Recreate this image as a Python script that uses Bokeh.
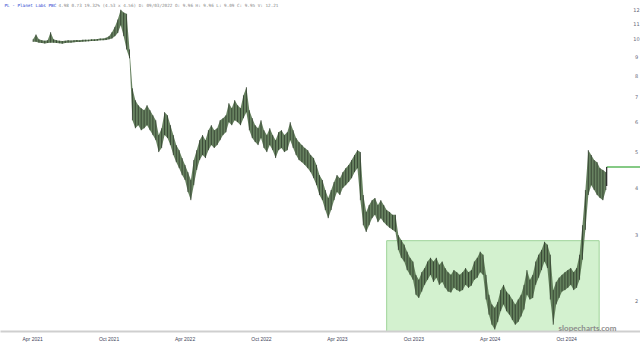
import pandas as pd
from bokeh.plotting import figure
from bokeh.models import Range1d, FixedTicker, DatetimeTickFormatter, Label, ColumnDataSource
from bokeh.embed import file_html
from bokeh.resources import INLINE

# ---- data (weekly high / low) ----
week_start = "2021-04-02"
highs = [
    10.00, 10.30, 10.00, 9.95, 9.92, 9.95, 10.45, 10.00, 9.95, 9.92,
    9.90, 9.92, 9.95, 9.93, 9.95, 9.96, 9.95, 9.97, 9.98, 9.98,
    10.00, 10.00, 10.02, 10.05, 10.05, 10.10, 10.20, 10.45, 10.80, 11.30,
    12.00, 11.80, 11.70, 9.40, 7.40, 6.88, 6.67, 6.55, 6.47, 6.67,
    6.47, 6.27, 6.08, 5.55, 5.79, 6.39, 6.27, 5.90, 5.55, 5.22,
    5.06, 4.82, 4.62, 4.42, 4.21, 4.76, 5.06, 5.38, 5.55, 5.38,
    5.72, 5.90, 5.72, 5.79, 6.08, 6.16, 6.27, 6.75, 6.55, 6.88,
    6.67, 6.55, 7.09, 7.45, 6.47, 6.16, 5.90, 5.79, 6.08, 5.72,
    5.55, 5.79, 5.55, 5.38, 5.65, 5.72, 5.55, 5.65, 6.01, 5.72,
    5.45, 5.32, 5.22, 5.13, 5.06, 4.91, 4.82, 4.62, 4.34, 4.21,
    3.96, 3.77, 3.96, 4.16, 4.34, 4.26, 4.42, 4.53, 4.62, 4.76,
    4.91, 5.06, 5.00, 3.84, 3.46, 3.61, 3.72, 3.77, 3.61, 3.72,
    3.61, 3.50, 3.46, 3.40, 3.40, 3.00, 2.91, 2.83, 2.71, 2.61,
    2.55, 2.35, 2.28, 2.39, 2.45, 2.55, 2.61, 2.55, 2.61, 2.50,
    2.55, 2.45, 2.39, 2.35, 2.42, 2.39, 2.35, 2.39, 2.45, 2.39,
    2.42, 2.55, 2.61, 2.71, 2.66, 2.35, 2.08, 1.96, 1.92, 1.99,
    2.14, 2.21, 2.12, 2.08, 2.02, 1.96, 2.02, 2.08, 2.21, 2.42,
    2.28, 2.35, 2.55, 2.66, 2.74, 2.88, 2.83, 2.66, 2.14, 2.25,
    2.31, 2.35, 2.39, 2.42, 2.45, 2.39, 2.45, 2.66, 3.19, 3.96,
    5.06, 4.91, 4.76, 4.70, 4.53, 4.48, 4.42,
]
lows = [
    9.85, 9.85, 9.80, 9.78, 9.75, 9.78, 9.80, 9.80, 9.78, 9.76,
    9.74, 9.78, 9.80, 9.80, 9.82, 9.84, 9.84, 9.86, 9.87, 9.88,
    9.90, 9.90, 9.92, 9.94, 9.95, 9.96, 10.00, 10.05, 10.20, 10.40,
    10.90, 10.20, 9.40, 8.90, 6.08, 5.79, 5.90, 5.72, 5.79, 5.90,
    5.72, 5.55, 5.38, 5.00, 5.13, 5.55, 5.45, 5.22, 4.91, 4.70,
    4.53, 4.34, 4.21, 3.91, 3.72, 4.08, 4.48, 4.76, 4.91, 4.82,
    5.06, 5.22, 5.13, 5.22, 5.38, 5.55, 5.65, 6.01, 5.90, 6.08,
    6.01, 5.90, 6.16, 6.39, 5.72, 5.45, 5.32, 5.22, 5.45, 5.13,
    5.00, 5.22, 5.06, 4.82, 5.06, 5.13, 5.00, 5.06, 5.38, 5.13,
    4.91, 4.76, 4.70, 4.62, 4.53, 4.42, 4.26, 4.08, 3.84, 3.72,
    3.50, 3.33, 3.50, 3.72, 3.91, 3.84, 4.01, 4.08, 4.16, 4.26,
    4.42, 4.53, 3.72, 3.19, 3.06, 3.19, 3.33, 3.40, 3.25, 3.33,
    3.25, 3.19, 3.14, 3.10, 3.06, 2.74, 2.61, 2.55, 2.42, 2.35,
    2.28, 2.08, 2.04, 2.12, 2.21, 2.28, 2.35, 2.25, 2.31, 2.21,
    2.25, 2.17, 2.12, 2.11, 2.17, 2.14, 2.12, 2.14, 2.21, 2.17,
    2.20, 2.28, 2.31, 2.39, 2.35, 2.02, 1.84, 1.73, 1.68, 1.76,
    1.88, 1.96, 1.88, 1.84, 1.78, 1.73, 1.76, 1.82, 1.90, 2.08,
    2.02, 2.04, 2.21, 2.31, 2.42, 2.55, 2.45, 2.02, 1.73, 1.96,
    2.04, 2.12, 2.14, 2.17, 2.21, 2.14, 2.17, 2.28, 2.58, 3.10,
    3.84, 4.08, 3.96, 3.84, 3.77, 3.72, 3.96,
]
last_price = 4.56
box_start, box_end = "2023-07-28", "2024-12-18"
box_top = 2.90
price_ticks = [2, 3, 4, 5, 6, 7, 8, 9, 10, 11, 12]
date_ticks = ["2021-04-01", "2021-10-01", "2022-04-01", "2022-10-01",
              "2023-04-01", "2023-10-01", "2024-04-01", "2024-10-01"]
title_name = "PL - Planet Labs PBC"
title_info = "4.98  0.73  19.32%  (4.53 x 4.56)  D: 09/03/2022  O:  9.96  H:  9.96  L:  9.09  C:  9.95  V:  12.21"

dates = pd.date_range(week_start, periods=len(highs), freq="7D")
src = ColumnDataSource(dict(x=dates, top=highs, bottom=lows))

x_start = pd.Timestamp("2021-01-14")
x_end = pd.Timestamp("2025-03-27")
p = figure(width=640, height=344, x_axis_type="datetime", y_axis_type="log",
           output_backend="svg", toolbar_location=None,
           x_range=Range1d(x_start, x_end), y_range=Range1d(1.659, 12.70),
           min_border_left=0, min_border_top=0, min_border_right=0, min_border_bottom=0)
p.outline_line_color = None
p.xgrid.visible = False
p.ygrid.visible = False
p.yaxis.visible = False

# green box
p.quad(left=[pd.Timestamp(box_start)], right=[pd.Timestamp(box_end)],
       top=[box_top], bottom=[1.0], fill_color="#d3f1cf", fill_alpha=1.0,
       line_color="#9fd39a", line_width=1)

# price band and bars
p.varea(x="x", y1="bottom", y2="top", source=src, fill_color="#56744f", fill_alpha=0.9)
p.segment(x0="x", x1="x", y0="bottom", y1="top", source=src,
          line_color="#2e3a2c", line_width=0.8)

# last price line
x_last = dates[-1] + pd.Timedelta(days=2)
p.segment(x0=[x_last], x1=[x_end], y0=[last_price], y1=[last_price],
          line_color="#5cb85c", line_width=1.5)
p.segment(x0=[x_last], x1=[x_last], y0=[last_price], y1=[lows[-1] + 0.1],
          line_color="#222222", line_width=1.2)

# price scale labels drawn at the right edge, inside the chart
for t in price_ticks:
    p.add_layout(Label(x=636, y=t, x_units="screen", y_units="data", text=str(t),
                       text_font="DejaVu Sans", text_font_size="5px", text_color="#666677",
                       text_align="center", text_baseline="middle"))

xa = p.xaxis[0]
xa.ticker = FixedTicker(ticks=[pd.Timestamp(d).value // 10**6 for d in date_ticks])
xa.formatter = DatetimeTickFormatter(months="%b %Y", days="%b %Y", years="%b %Y", hours="%b %Y")
xa.major_label_text_font_size = "5px"
xa.major_label_text_color = "#44465a"
xa.axis_line_color = "#cfcfcf"
xa.axis_line_width = 2
xa.major_tick_line_color = None
xa.minor_tick_line_color = None
xa.major_tick_out = 0
xa.major_tick_in = 0
xa.minor_tick_out = 0
xa.major_label_standoff = 4

# header texts
p.add_layout(Label(x=4, y=326, x_units="screen", y_units="screen", text=title_name,
                   text_font="DejaVu Sans Mono", text_font_size="4.3px",
                   text_color="#2a3fcf", text_baseline="middle"))
p.add_layout(Label(x=58, y=326, x_units="screen", y_units="screen", text=title_info,
                   text_font="DejaVu Sans Mono", text_font_size="4.3px",
                   text_color="#888888", text_baseline="middle"))
# watermark
p.add_layout(Label(x=587, y=4, x_units="screen", y_units="screen", text="slopecharts.com",
                   text_font="Lato", text_font_size="8px", text_font_style="bold",
                   text_color="#8c8c8c", text_align="center", text_baseline="middle"))

open("out.html", "w").write(file_html(p, INLINE))
